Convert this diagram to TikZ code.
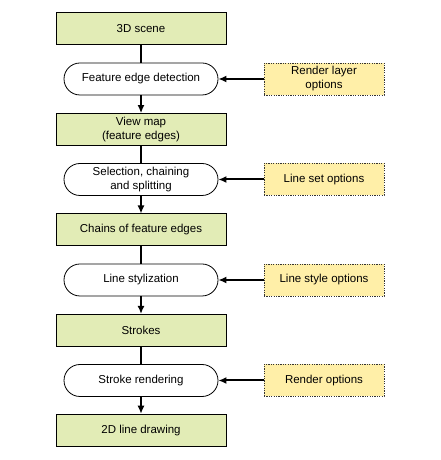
\documentclass[tikz,border=0pt]{standalone}
\usepackage{fontspec}
\setmainfont{Liberation Sans}
\usetikzlibrary{arrows.meta,calc}
\definecolor{ce2ecb6}{RGB}{226,236,182}
\definecolor{cffefa8}{RGB}{255,239,168}
\definecolor{c333333}{RGB}{51,51,51}
\tikzset{every path/.style={draw,>={Latex[length=8pt,width=7pt]},line width=1.4pt,color=black}}

\begin{document}
\begin{tikzpicture}[x=1pt,y=1pt]
\useasboundingbox[draw=none] (0,0) rectangle (440,460);
\begin{scope}[every node/.style={draw,minimum width=170pt,minimum height=32pt,line width=0.8pt,
rectangle,inner sep=0pt,align=center,font=\fontsize{11.5}{14}\selectfont,fill=ce2ecb6}]
\node (scene) at (141,431.5) {3D scene};
\node (vmap) at (141,330.5) {View map\\(feature edges)};
\node (chains) at (141,230.1) {Chains of feature edges};
\node (strokes) at (141,129.7) {Strokes};
\node (drawing) at (141,29.9) {2D line drawing};
\end{scope}

\begin{scope}[every node/.style={draw,minimum width=154pt,minimum height=32pt,line width=0.8pt,
rounded corners=16pt,inner sep=0pt,align=center,font=\fontsize{11.5}{14}\selectfont,fill=white}]
\node (detect) at (141,381) {Feature edge detection};
\node (select) at (141,280.5) {Selection, chaining\\and splitting};
\node (stylize) at (141,180) {Line stylization};
\node (render) at (141,79.5) {Stroke rendering};
\end{scope}

\begin{scope}[every node/.style={draw,dashed,dash pattern=on 1.2pt off 1.2pt,color=c333333,text=black,
minimum width=120pt,minimum height=32pt,line width=0.8pt,rectangle,inner sep=0pt,align=center,
font=\fontsize{11.5}{14}\selectfont,fill=cffefa8}]
\node (layeropt) at (324,381) {Render layer\\options};
\node (setopt) at (324,280.5) {Line set options};
\node (styleopt) at (324,180) {Line style options};
\node (renderopt) at (324,79.5) {Render options};
\end{scope}

\path[-] (scene) -- (detect);
\path[->] (detect) -- (vmap);
\path[-] (vmap) -- (select);
\path[->] (select) -- (chains);
\path[-] (chains) -- (stylize);
\path[->] (stylize) -- (strokes);
\path[-] (strokes) -- (render);
\path[->] (render) -- (drawing);

\begin{scope}
\tikzset{every path/.style={draw,>={Latex[length=8pt,width=7pt]},line width=2pt,color=black}}
\path[->] (layeropt) -- (detect);
\path[->] (setopt) -- (select);
\path[->] (styleopt) -- (stylize);
\path[->] (renderopt) -- (render);
\end{scope}

\end{tikzpicture}
\end{document}
